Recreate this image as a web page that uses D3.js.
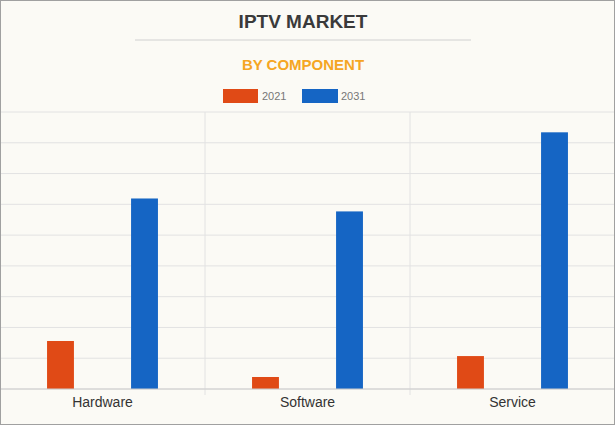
<!DOCTYPE html>
<html><head><meta charset="utf-8">
<script src="https://d3js.org/d3.v7.min.js"></script>
<style>body{margin:0;background:#fff}</style></head>
<body><script>
const categories=["Hardware","Software","Service"];
const seriesNames=["2021","2031"];
const values2021=[1.56,0.39,1.07];
const values2031=[6.19,5.77,8.34];
const colors=["#e04a16","#1565c4"];
const W=615,H=425;
const svg=d3.select("body").append("svg").attr("width",W).attr("height",H);
svg.append("rect").attr("x",0.5).attr("y",0.5).attr("width",W-1).attr("height",H-1).attr("fill","#fbfaf5").attr("stroke","#a0a0a0");
svg.append("text").attr("x",303).attr("y",28).attr("text-anchor","middle").attr("font-family","Liberation Sans, Arial").attr("font-weight","bold").attr("font-size",19).attr("fill","#3a3a3a").text("IPTV MARKET");
svg.append("line").attr("x1",135).attr("x2",471).attr("y1",40).attr("y2",40).attr("stroke","#d0d0d0");
svg.append("text").attr("x",303).attr("y",70).attr("text-anchor","middle").attr("font-family","Liberation Sans, Arial").attr("font-weight","bold").attr("font-size",15).attr("fill","#f5a623").text("BY COMPONENT");
const lx=[223,302];
seriesNames.forEach((s,i)=>{
 svg.append("rect").attr("x",lx[i]).attr("y",89).attr("width",i?36:35).attr("height",14).attr("fill",colors[i]);
 svg.append("text").attr("x",lx[i]+(i?39:39)).attr("y",100).attr("font-family","Liberation Sans, Arial").attr("font-size",11).attr("fill","#777").text(s);
});
const x=d3.scaleBand().domain(categories).range([0,615]);
const y=d3.scaleLinear().domain([0,9]).range([389,112]);
const g=svg.append("g");
y.ticks(9).forEach(t=>g.append("line").attr("x1",1).attr("x2",W-1).attr("y1",y(t)).attr("y2",y(t)).attr("stroke","#e2e2e2"));
[1,2].forEach(i=>g.append("line").attr("x1",x(categories[i])).attr("x2",x(categories[i])).attr("y1",112).attr("y2",395).attr("stroke","#e2e2e2"));
const xs=d3.scaleBand().domain(seriesNames).range([0,x.bandwidth()]).paddingInner(0.68).paddingOuter(0.56);
[values2021,values2031].forEach((vals,si)=>{
 g.selectAll(null).data(categories).enter().append("rect")
  .attr("x",c=>x(c)+xs(seriesNames[si])).attr("width",xs.bandwidth())
  .attr("y",(c,i)=>y(vals[i])).attr("height",(c,i)=>389-y(vals[i])).attr("fill",colors[si]);
});
g.append("line").attr("x1",1).attr("x2",W-1).attr("y1",389).attr("y2",389).attr("stroke","#ccc");
const ax=svg.append("g").attr("transform","translate(0,389)").call(d3.axisBottom(x).tickSize(0).tickPadding(8));
ax.select(".domain").remove();
ax.selectAll("text").attr("font-family","Liberation Sans, Arial").attr("font-size",14).attr("fill","#333");
</script></body></html>
